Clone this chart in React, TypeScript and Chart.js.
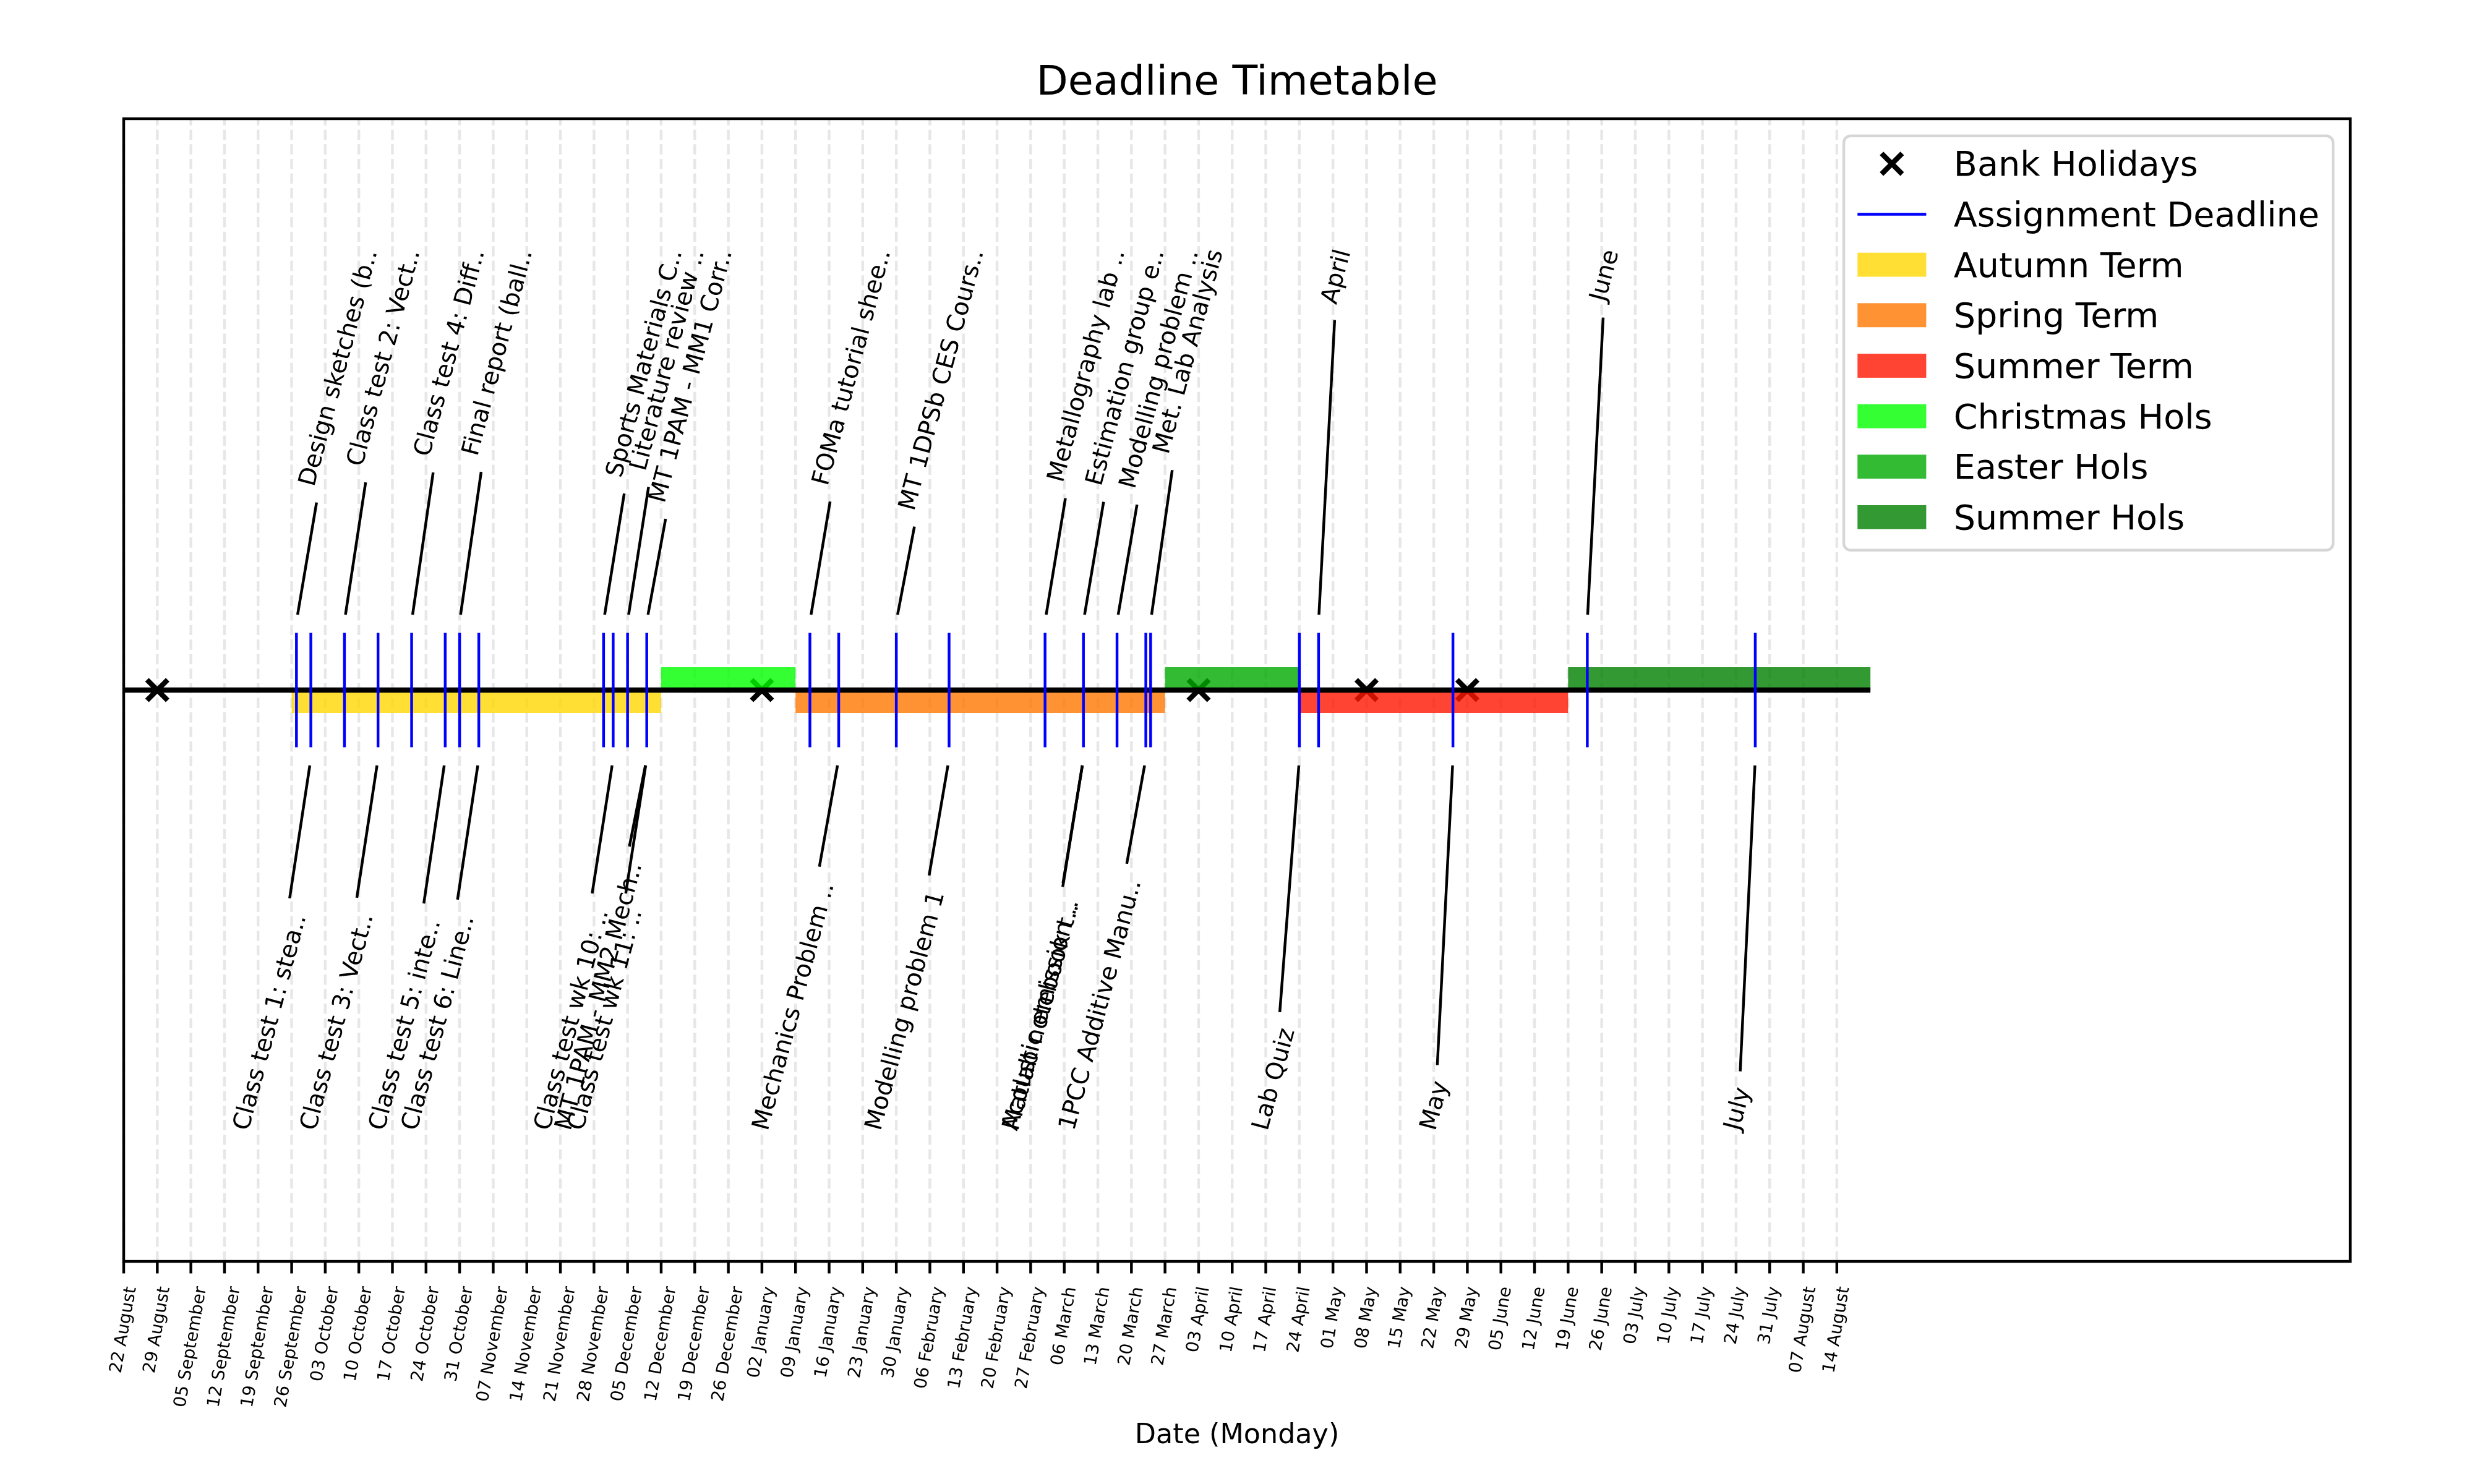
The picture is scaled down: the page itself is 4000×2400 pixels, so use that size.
import React, { useEffect, useRef } from "react";
import { Chart, registerables } from "chart.js";

Chart.register(...registerables);

// ---------------- data ----------------
const timelineStart = "2022-08-22";
const timelineEnd = "2023-08-21";
const axisEndDays = 464;

const weekTickLabels = [
  "22 August", "29 August", "05 September", "12 September", "19 September", "26 September",
  "03 October", "10 October", "17 October", "24 October", "31 October",
  "07 November", "14 November", "21 November", "28 November",
  "05 December", "12 December", "19 December", "26 December",
  "02 January", "09 January", "16 January", "23 January", "30 January",
  "06 February", "13 February", "20 February", "27 February",
  "06 March", "13 March", "20 March", "27 March",
  "03 April", "10 April", "17 April", "24 April",
  "01 May", "08 May", "15 May", "22 May", "29 May",
  "05 June", "12 June", "19 June", "26 June",
  "03 July", "10 July", "17 July", "24 July", "31 July",
  "07 August", "14 August",
];

const bankHolidayDates = ["2022-08-29", "2023-01-02", "2023-04-03", "2023-05-08", "2023-05-29"];

const deadlineDates = [
  "2022-09-27", "2022-09-30", "2022-10-07", "2022-10-14", "2022-10-21", "2022-10-28",
  "2022-10-31", "2022-11-04", "2022-11-30", "2022-12-02", "2022-12-05", "2022-12-09",
  "2022-12-09", "2022-12-09", "2023-01-12", "2023-01-18", "2023-01-30", "2023-02-10",
  "2023-03-02", "2023-03-10", "2023-03-10", "2023-03-10", "2023-03-17", "2023-03-23",
  "2023-03-24", "2023-04-24", "2023-04-28", "2023-05-26", "2023-06-23", "2023-07-28",
];
const deadlineLabels = [
  "Design sketches (b..", "Class test 1: stea..", "Class test 2: Vect..", "Class test 3: Vect..",
  "Class test 4: Diff..", "Class test 5: inte..", "Final report (ball..", "Class test 6: Line..",
  "Sports Materials C..", "Class test wk 10: ..", "Literature review ..", "MT 1PAM - MM2 Mech..",
  "MT 1PAM - MM1 Corr..", "Class test wk 11: ..", "FOMa tutorial shee..", "Mechanics Problem ..",
  "MT 1DPSb CES Cours..", "Modelling problem 1", "Metallography lab ..", "Matlab notebook t..",
  "Estimation group e..", "Acoustic emission ..", "Modelling problem ..", "1PCC Additive Manu..",
  "Met. Lab Analysis", "Lab Quiz", "April", "May", "June", "July",
];

const periodLabels = ["Autumn Term", "Spring Term", "Summer Term", "Christmas Hols", "Easter Hols", "Summer Hols"];
const periodStartDates = ["2022-09-26", "2023-01-09", "2023-04-24", "2022-12-12", "2023-03-27", "2023-06-19"];
const periodEndDates = ["2022-12-12", "2023-03-27", "2023-06-19", "2023-01-09", "2023-04-24", "2023-08-21"];
const periodKinds = ["term", "term", "term", "hols", "hols", "hols"];

// ---------------- style ----------------
const periodColors = [
  "rgba(255,215,0,0.8)", "rgba(255,119,0,0.8)", "rgba(255,21,0,0.8)",
  "rgba(0,255,0,0.8)", "rgba(0,170,0,0.8)", "rgba(0,128,0,0.8)",
];
const PT = 400 / 72;
const FONT = '"DejaVu Sans", "Liberation Sans", sans-serif';
const F_TITLE = 12 * PT;
const F_LEG = 10 * PT;
const F_XLAB = 8 * PT;
const F_ANN = 7 * PT;
const F_TICK = 5 * PT;
const ASC = 0.76;
const DESC = 0.21;
const DEG = Math.PI / 180;
const ANN_ROT = 75;
const TICK_ROT = 80;
const LABEL_LEVEL = 0.775;
const LEADER_BASE = 0.12;
const DEADLINE_HALF = 0.1;
const BAR_H = 0.04;

const dayOf = (s: string) =>
  (Date.parse(s + "T00:00:00Z") - Date.parse(timelineStart + "T00:00:00Z")) / 86400000;

function textBox(ctx: CanvasRenderingContext2D, text: string, F: number, rot: number) {
  ctx.font = `${F}px ${FONT}`;
  const w = ctx.measureText(text).width;
  const c = Math.cos(rot * DEG), s = Math.sin(rot * DEG);
  const a = ASC * F, d = DESC * F;
  return { left: -a * s, right: w * c + d * s, top: -w * s - a * c, bottom: d * c };
}

function drawRotated(ctx: CanvasRenderingContext2D, text: string, x: number, y: number, rot: number) {
  ctx.save();
  ctx.translate(x, y);
  ctx.rotate(-rot * DEG);
  ctx.textAlign = "left";
  ctx.textBaseline = "alphabetic";
  ctx.fillText(text, 0, 0);
  ctx.restore();
}

const timelinePlugin = {
  id: "timelineDecor",
  beforeDatasetsDraw(chart: any) {
    const { ctx, chartArea: a } = chart;
    const xs = chart.scales.x;
    ctx.save();
    ctx.strokeStyle = "rgba(176,176,176,0.3)";
    ctx.lineWidth = 0.8 * PT;
    ctx.setLineDash([3.7 * 0.8 * PT, 1.6 * 0.8 * PT]);
    weekTickLabels.forEach((_, i) => {
      const px = xs.getPixelForValue(i * 7);
      ctx.beginPath();
      ctx.moveTo(px, a.bottom);
      ctx.lineTo(px, a.top);
      ctx.stroke();
    });
    ctx.restore();
  },
  afterDatasetsDraw(chart: any) {
    const { ctx, chartArea: a } = chart;
    const xs = chart.scales.x, ys = chart.scales.y;

    // frame
    ctx.save();
    ctx.strokeStyle = "#000";
    ctx.lineWidth = 0.8 * PT;
    ctx.strokeRect(a.left, a.top, a.right - a.left, a.bottom - a.top);

    // ticks + tick labels
    const tickLen = 3.5 * PT;
    let maxBottom = a.bottom;
    ctx.fillStyle = "#000";
    weekTickLabels.forEach((lab, i) => {
      const px = xs.getPixelForValue(i * 7);
      ctx.beginPath();
      ctx.moveTo(px, a.bottom);
      ctx.lineTo(px, a.bottom + tickLen);
      ctx.stroke();
      const b = textBox(ctx, lab, F_TICK, TICK_ROT);
      const Sx = px - (b.left + b.right) / 2;
      const Sy = a.bottom + tickLen + 3.5 * PT - b.top;
      drawRotated(ctx, lab, Sx, Sy, TICK_ROT);
      maxBottom = Math.max(maxBottom, Sy + b.bottom);
    });

    // x label
    ctx.font = `${F_XLAB}px ${FONT}`;
    ctx.textAlign = "center";
    ctx.textBaseline = "alphabetic";
    ctx.fillText("Date (Monday)", (a.left + a.right) / 2, maxBottom + 4 * PT + ASC * F_XLAB);

    // annotations
    ctx.lineWidth = 0.8 * PT;
    const pad = 2 * PT, shrink = 2 * PT;
    deadlineDates.forEach((ds, i) => {
      const side = i % 2 === 0 ? 1 : -1;
      const label = deadlineLabels[i];
      const px = xs.getPixelForValue(dayOf(ds));
      const b = textBox(ctx, label, F_ANN, ANN_ROT);
      let Sx: number, Sy: number;
      if (side > 0) {
        Sx = px - b.left;
        Sy = ys.getPixelForValue(LABEL_LEVEL) - b.top;
      } else {
        Sx = px - b.right;
        Sy = ys.getPixelForValue(-LABEL_LEVEL) - b.bottom;
      }
      const x0 = Sx + b.left, x1 = Sx + b.right, y0 = Sy + b.top, y1 = Sy + b.bottom;
      const ax = px, ay = ys.getPixelForValue(side * LEADER_BASE);
      const cx = (x0 + x1) / 2, cy = (y0 + y1) / 2;
      const dx = cx - ax, dy = cy - ay;
      const len = Math.hypot(dx, dy);
      const tx = dx !== 0 ? Math.min((x0 - pad - ax) / dx, (x1 + pad - ax) / dx) : -Infinity;
      const ty = dy !== 0 ? Math.min((y0 - pad - ay) / dy, (y1 + pad - ay) / dy) : -Infinity;
      const t = Math.max(0, tx, ty);
      const ux = dx / len, uy = dy / len;
      ctx.beginPath();
      ctx.moveTo(ax + ux * shrink, ay + uy * shrink);
      ctx.lineTo(ax + dx * t - ux * shrink, ay + dy * t - uy * shrink);
      ctx.stroke();
      drawRotated(ctx, label, Sx, Sy, ANN_ROT);
    });
    ctx.restore();

    // legend
    drawLegend(chart);
  },
};

function drawLegend(chart: any) {
  const { ctx, chartArea: a } = chart;
  const F = F_LEG;
  const items = chart.data.datasets.filter((d: any) => d.legendKind);
  ctx.save();
  ctx.font = `${F}px ${FONT}`;
  const textW = Math.max(...items.map((d: any) => ctx.measureText(d.label).width));
  const bp = 0.4 * F, hl = 2 * F, htp = 0.8 * F, ls = 0.5 * F, rowH = (ASC + DESC) * F;
  const boxW = bp + hl + htp + textW + bp;
  const boxH = bp * 2 + items.length * rowH + (items.length - 1) * ls;
  const x1 = a.right - 0.5 * F, x0 = x1 - boxW, y0 = a.top + 0.5 * F;
  const r = 0.2 * F;
  ctx.beginPath();
  ctx.moveTo(x0 + r, y0);
  ctx.lineTo(x1 - r, y0);
  ctx.arcTo(x1, y0, x1, y0 + r, r);
  ctx.lineTo(x1, y0 + boxH - r);
  ctx.arcTo(x1, y0 + boxH, x1 - r, y0 + boxH, r);
  ctx.lineTo(x0 + r, y0 + boxH);
  ctx.arcTo(x0, y0 + boxH, x0, y0 + boxH - r, r);
  ctx.lineTo(x0, y0 + r);
  ctx.arcTo(x0, y0, x0 + r, y0, r);
  ctx.closePath();
  ctx.fillStyle = "rgba(255,255,255,0.8)";
  ctx.fill();
  ctx.strokeStyle = "rgba(204,204,204,0.8)";
  ctx.lineWidth = 0.8 * PT;
  ctx.stroke();

  items.forEach((d: any, i: number) => {
    const rowTop = y0 + bp + i * (rowH + ls);
    const base = rowTop + ASC * F;
    const hx = x0 + bp;
    const hcy = base - 0.35 * F;
    if (d.legendKind === "marker") {
      const m = 3 * PT;
      const cxm = hx + hl / 2;
      ctx.strokeStyle = "#000";
      ctx.lineWidth = 1.5 * PT;
      ctx.beginPath();
      ctx.moveTo(cxm - m, hcy - m);
      ctx.lineTo(cxm + m, hcy + m);
      ctx.moveTo(cxm - m, hcy + m);
      ctx.lineTo(cxm + m, hcy - m);
      ctx.stroke();
    } else if (d.legendKind === "line") {
      ctx.strokeStyle = d.borderColor;
      ctx.lineWidth = 0.8 * PT;
      ctx.beginPath();
      ctx.moveTo(hx, hcy);
      ctx.lineTo(hx + hl, hcy);
      ctx.stroke();
    } else {
      ctx.fillStyle = d.borderColor;
      ctx.fillRect(hx, base - 0.7 * F, hl, 0.7 * F);
    }
    ctx.fillStyle = "#000";
    ctx.textAlign = "left";
    ctx.textBaseline = "alphabetic";
    ctx.fillText(d.label, hx + hl + htp, base);
  });
  ctx.restore();
}

function buildConfig(): any {
  const barWidth = (c: any) => {
    const ys = c.chart.scales && c.chart.scales.y;
    if (!ys || !c.chart.chartArea) return 37;
    const v = Math.abs(ys.getPixelForValue(0) - ys.getPixelForValue(BAR_H));
    return isFinite(v) && v > 0 ? v : 37;
  };

  const holidayDs = {
    label: "Bank Holidays",
    legendKind: "marker",
    data: bankHolidayDates.map((d) => ({ x: dayOf(d), y: 0 })),
    showLine: false,
    pointStyle: "crossRot",
    pointRadius: 3 * PT * Math.SQRT2,
    pointBorderWidth: 1.5 * PT,
    pointBorderColor: "#000",
    pointBackgroundColor: "rgba(0,0,0,0)",
    borderColor: "#000",
    order: 10,
  };

  const periodDs = periodLabels.map((name, i) => {
    const yc = (periodKinds[i] === "term" ? -1 : 1) * BAR_H / 2;
    return {
      label: name,
      legendKind: "patch",
      data: [
        { x: dayOf(periodStartDates[i]), y: yc },
        { x: dayOf(periodEndDates[i]), y: yc },
      ],
      borderColor: periodColors[i],
      borderWidth: barWidth,
      borderCapStyle: "butt",
      pointRadius: 0,
      fill: false,
      order: 8,
    };
  });

  const axisDs = {
    label: "timeline",
    data: [
      { x: dayOf(timelineStart), y: 0 },
      { x: dayOf(timelineEnd), y: 0 },
    ],
    borderColor: "#000",
    borderWidth: 1.5 * PT,
    borderCapStyle: "butt",
    pointRadius: 0,
    order: 6,
  };

  const deadlinePts: any[] = [];
  deadlineDates.forEach((d) => {
    const x = dayOf(d);
    deadlinePts.push({ x, y: -DEADLINE_HALF }, { x, y: DEADLINE_HALF }, { x, y: null });
  });
  const deadlineDs = {
    label: "Assignment Deadline",
    legendKind: "line",
    data: deadlinePts,
    borderColor: "#0000ff",
    borderWidth: 0.8 * PT,
    borderCapStyle: "butt",
    pointRadius: 0,
    spanGaps: false,
    order: 4,
  };

  return {
    type: "line",
    data: { datasets: [holidayDs, deadlineDs, ...periodDs, axisDs] },
    options: {
      responsive: false,
      animation: false,
      devicePixelRatio: 1,
      events: [],
      layout: { padding: { left: 200, right: 200, top: 0, bottom: 360 }, autoPadding: false },
      elements: { line: { tension: 0 } },
      scales: {
        x: { type: "linear", min: 0, max: axisEndDays, display: false },
        y: { type: "linear", min: -1, max: 1, display: false },
      },
      plugins: {
        legend: { display: false },
        tooltip: { enabled: false },
        title: {
          display: true,
          text: "Deadline Timetable",
          color: "#000",
          font: { family: FONT, size: F_TITLE, weight: "normal", lineHeight: 1.2 },
          padding: { top: 95.6, bottom: 16.4 },
        },
      },
    },
    plugins: [timelinePlugin],
  };
}

export default function App() {
  const ref = useRef<HTMLCanvasElement>(null);
  useEffect(() => {
    document.body.style.margin = "0";
    const chart = new Chart(ref.current as HTMLCanvasElement, buildConfig());
    return () => chart.destroy();
  }, []);
  return (
    <div style={{ width: 4000, height: 2400, background: "#fff" }}>
      <canvas ref={ref} width={4000} height={2400} style={{ display: "block", width: 4000, height: 2400 }} />
    </div>
  );
}
